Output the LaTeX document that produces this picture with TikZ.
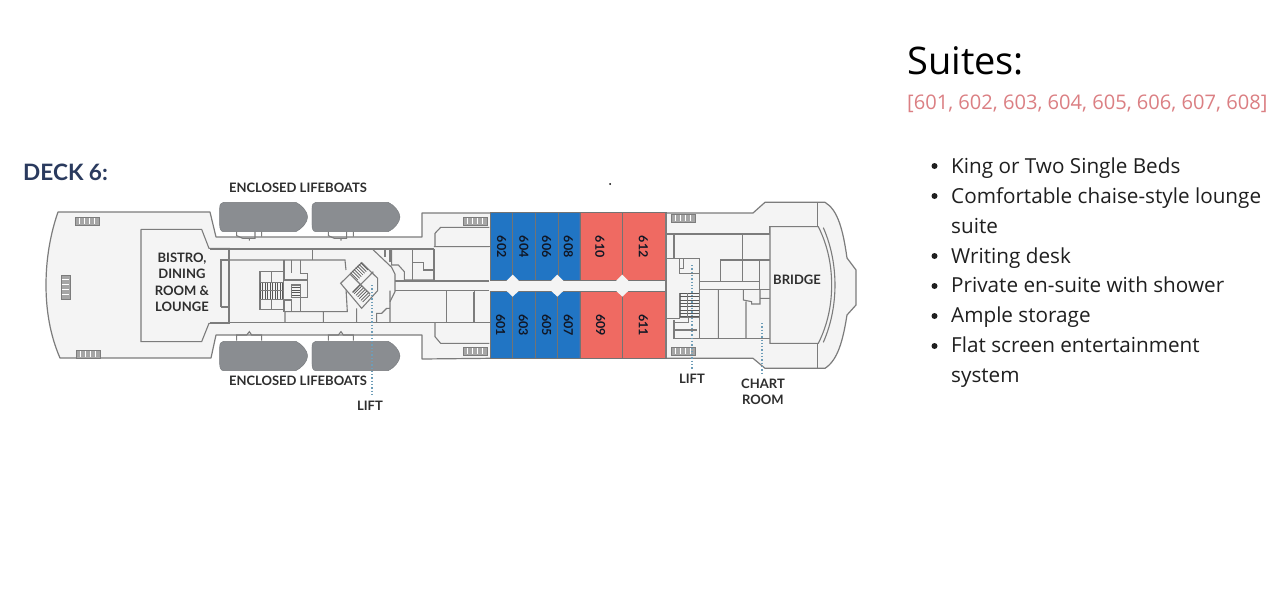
\documentclass[tikz,border=0pt]{standalone}
\usepackage{fontspec}
\setmainfont{Open Sans}
\newfontfamily\lab{Lato}
\definecolor{deck}{HTML}{F4F4F4}
\definecolor{wall}{HTML}{7C7C7C}
\definecolor{boat}{HTML}{8A8D91}
\definecolor{suiteblue}{HTML}{2175C4}
\definecolor{suitered}{HTML}{EF6A62}
\definecolor{navy}{HTML}{2A3A5E}
\definecolor{pinktxt}{HTML}{DB7F83}
\definecolor{leader}{HTML}{6E9DB8}
\tikzset{
 zm/.style={x=0.3333pt,y=-0.3333pt},
 hull/.style={draw=wall,fill=deck,line width=1.2pt,line join=round},
 wl/.style={draw=wall,line width=1.1pt},
 boatshape/.style={fill=boat,draw=boat!85!black,line width=.4pt},
 suitediv/.style={draw=black!55,line width=.9pt},
 room/.style={font=\lab\bfseries\fontsize{13}{16.5}\selectfont,text=black!82,align=center,inner sep=0pt},
 suitenum/.style={font=\lab\bfseries\fontsize{12.5}{14}\selectfont,text=black!60!navy,rotate=-90,inner sep=0pt},
 leadline/.style={draw=leader,line width=1.4pt,dash pattern=on 1.3pt off 2pt},
 item/.style={font=\fontsize{20.7}{30}\selectfont,anchor=base west,inner sep=0pt,text=black!88},
 bul/.style={circle,fill=black!88,inner sep=0pt,minimum size=6pt},
}
\begin{document}
\begin{tikzpicture}[x=1pt,y=-1pt]
\useasboundingbox (0,0) rectangle (1280,597);
\fill[white] (0,0) rectangle (1280,597);
% ----- hull outline
\path[hull] (58,212) -- (210,212) -- (216,237) -- (422,237) -- (422,213) -- (490,213) -- (666,213)
  -- (753,213) -- (765,202.3) -- (825,202.3) .. controls (838,210) and (843,230) .. (847,258)
  -- (856,270) -- (856,305) -- (847,315) .. controls (843,340) and (838,360) .. (825,368.3)
  -- (765,368.3) -- (753,358.3) -- (666,358.3) -- (490,358.3) -- (422,359) -- (422,335) -- (216,335) -- (211,358)
  -- (60,358) .. controls (50,335) and (46,310) .. (46,285) .. controls (46,260) and (50,235) .. (58,212) -- cycle;
% ----- aft section (zoom-1 coords)
\begin{scope}[shift={(10,150)},zm]
 \draw[wl] (393,238) -- (575,238) -- (597,295) -- (660,295);
 \draw[wl] (393,238) -- (393,575) -- (575,575) -- (597,520) -- (660,520);
 \draw[wl] (660,330) -- (635,330) -- (635,472) -- (660,472);
\end{scope}
% ----- mid section (zoom-2 coords)
\begin{scope}[shift={(210,170)},zm]
 \draw[wl] (0,237) -- (672,237) (0,458) -- (838,458);
 \draw[wl] (57,237) -- (57,458) (308,237) -- (308,270);
 \draw[wl] (57,270) -- (405,270) -- (408,300);
 \draw[wl] (33,270) rectangle (57,410);
 \draw[wl] (408,355) -- (412,425) -- (225,425) -- (225,458) (340,425) -- (340,458) (440,415) -- (440,458);
 \draw[wl] (150,305) rectangle (220,418);
 \draw[wl] (150,337) -- (150,388) (185,305) -- (185,337) (185,388) -- (185,418);
 \draw[wl] (222,270) -- (222,330) -- (292,330) (245,270) -- (245,310) (272,270) -- (272,310) -- (292,310) -- (292,382) -- (272,382) -- (272,425);
 \draw[wl] (222,390) -- (222,425) (245,345) rectangle (272,382) (222,390) -- (245,390) -- (245,425);
 \foreach \i in {0,...,9} \draw[draw=wall!70!black,line width=.7pt] ({150+\i*7.5},337) -- ({150+\i*7.5},388);
 \draw[wl] (150,337) -- (218,337) (150,362) -- (218,362) (150,388) -- (218,388);
 \foreach \i in {0,...,3} \draw[draw=wall!70!black,line width=.7pt] (247,{352+\i*8}) -- (270,{352+\i*8});
 % diamond stair
 \draw[wl,fill=deck] (392,340) -- (455,278) -- (503,325) -- (503,362) -- (455,415) -- cycle;
 \draw[wl] (420,312) -- (480,372) (428,368) -- (490,305);
 \foreach \i in {0,...,6} \draw[draw=wall!70!black,line width=.7pt] ({422+\i*5},{308-\i*5}) -- ({444+\i*5},{330-\i*5});
 \foreach \i in {0,...,6} \draw[draw=wall!70!black,line width=.7pt] ({428+\i*5},{366+\i*5}) -- ({450+\i*5},{344+\i*5});
 % forward of stair
 \draw[wl] (487,237) -- (545,292) -- (555,312) -- (555,365) -- (540,395);
 \draw[wl] (525,237) -- (525,260) (540,237) -- (540,275);
 \draw[wl] (545,237) -- (545,285) -- (565,285) -- (583,305) -- (583,330) -- (672,330);
 \draw[wl] (608,237) -- (608,330) (610,277) -- (640,277) -- (640,300) -- (672,300);
 \draw[wl] (672,237) -- (672,330) (555,333) -- (838,333) (555,362) -- (838,362);
 \draw[wl] (540,362) -- (540,458) (500,458) -- (500,430) -- (515,430) -- (530,415) -- (540,415);
 \draw[wl] (710,362) -- (710,458) (793,362) -- (793,458);
 \draw[wl] (672,230) -- (838,230) (675,230) -- (675,190) -- (692,172) -- (838,172);
 \draw[wl] (675,458) -- (675,500) -- (692,520) -- (838,520);
 % davits
 \foreach \b in {80,355} {
  \draw[wl] (\b,185) -- (\b,197) -- ({\b+18},205) -- ({\b+55},205) -- ({\b+55},185)
            ({\b+38},205) -- ({\b+38},212) ({\b+75},185) -- ({\b+75},200);
  \draw[wl] (\b,512) -- (\b,495) -- ({\b+30},495) -- ({\b+38},485) -- ({\b+45},495) -- ({\b+75},495) -- ({\b+75},512);
 }
 % lifeboats
 \foreach \o in {0,277} {
  \path[boatshape,shift={(\o,0)}] (40,97) -- (258,97) .. controls (275,105) and (293,125) .. (293,141)
    .. controls (293,157) and (275,177) .. (258,185) -- (40,185) .. controls (32,185) and (29,175) .. (29,165)
    -- (29,115) .. controls (29,105) and (32,97) .. (40,97) -- cycle;
  \path[boatshape,shift={(\o,0)}] (40,514) -- (258,514) .. controls (275,522) and (293,542) .. (293,558)
    .. controls (293,574) and (275,594) .. (258,602) -- (40,602) .. controls (32,602) and (29,592) .. (29,582)
    -- (29,532) .. controls (29,522) and (32,514) .. (40,514) -- cycle;
 }
\end{scope}
% ----- suites (zoom-3 coords)
\begin{scope}[shift={(460,190)},zm]
 \draw[wl] (0,170) -- (92,170) (42,305) -- (42,397) (0,397) -- (92,397);
 \fill[suiteblue] (92,68) rectangle (360,270) (92,305) rectangle (360,505);
 \fill[suitered] (360,68) rectangle (618,270) (360,305) rectangle (618,505);
 \draw[suitediv] (92,68) rectangle (618,270) (92,305) rectangle (618,505) (360,68) -- (360,270) (360,305) -- (360,505);
 \foreach \x in {158,225,295,487} \draw[suitediv] (\x,68) -- (\x,270);
 \foreach \x in {157,225,292,487} \draw[suitediv] (\x,305) -- (\x,505);
 \fill[deck] (92,272) rectangle (616,303);
 \draw[wl] (618,270) -- (618,305);
 \foreach \x in {158,292,487} \fill[deck] (\x,254) -- ({\x+18},272) -- ({\x+18},303) -- (\x,320) -- ({\x-18},303) -- ({\x-18},272) -- cycle;
 \node[suitenum] (s602) at (125,170) {602};
 \node[suitenum] (s604) at (192,170) {604};
 \node[suitenum] (s606) at (260,170) {606};
 \node[suitenum] (s608) at (325,170) {608};
 \node[suitenum] (s610) at (420,170) {610};
 \node[suitenum] (s612) at (550,170) {612};
 \node[suitenum] (s601) at (122,405) {601};
 \node[suitenum] (s603) at (190,405) {603};
 \node[suitenum] (s605) at (260,405) {605};
 \node[suitenum] (s607) at (325,405) {607};
 \node[suitenum] (s609) at (422,405) {609};
 \node[suitenum] (s611) at (550,405) {611};
\end{scope}
% ----- forward section (zoom-4 coords)
\begin{scope}[shift={(650,190)},zm]
 \draw[wl] (48,132) -- (360,132) (72,132) -- (72,205) (48,205) -- (148,205) -- (148,445);
 \draw[wl] (278,132) -- (278,210) -- (212,210) -- (212,275) (278,210) -- (360,210) (328,210) -- (328,298);
 \draw[wl] (278,210) -- (278,275) (148,275) -- (328,275) (148,298) -- (360,298);
 \draw[wl] (205,298) -- (205,445) (288,335) -- (288,445) (280,298) -- (280,330) -- (305,335) -- (305,342) -- (330,342) -- (330,325) -- (360,325) (330,298) -- (330,325);
 \draw[wl] (72,445) -- (360,445) (48,385) -- (90,385) (72,390) -- (72,445) -- (120,445) (75,420) -- (140,420) (75,398) -- (115,398) -- (115,385);
 \draw[wl] (88,205) -- (88,250) -- (148,250) (100,205) -- (100,235) -- (88,235);
 \draw[wl,fill=deck] (90,310) rectangle (148,382);
 \foreach \i in {0,...,7} \draw[draw=wall!70!black,line width=.7pt] (90,{310+\i*10}) -- (148,{310+\i*10});
 \draw[wl] (112,310) -- (112,382);
 \draw[wl] (360,132) -- (360,110) -- (505,110);
 \draw[wl,fill=deck] (360,110) -- (505,110) .. controls (535,170) and (545,230) .. (545,285)
    .. controls (545,340) and (535,400) .. (505,460) -- (360,460) -- cycle;
 \draw[wl] (520,113) .. controls (545,170) and (555,230) .. (555,285) .. controls (555,340) and (545,400) .. (520,457);
 \draw[wl] (503,37) -- (503,110) (503,460) -- (503,533);
 \draw[wl] (48,68) -- (48,505);
\end{scope}
% ----- vents
\foreach \n/\x/\y/\w/\h in {a/75/217/24/8,b/61/275/9/24,c/76/350/24/8,d/463/217/24/8,e/463/347/24/8,f/671/214/24/8,g/671/347/24/8} {
 \fill[black!35,draw=wall] (\x,\y) rectangle ++(\w,\h);
 \ifdim \w pt>\h pt
  \foreach \k in {1,...,4} \draw[white,line width=.9pt] ({\x+\w*\k/5},{\y+1}) -- ({\x+\w*\k/5},{\y+\h-1});
 \else
  \foreach \k in {1,...,4} \draw[white,line width=.9pt] ({\x+1},{\y+\h*\k/5}) -- ({\x+\w-1},{\y+\h*\k/5});
 \fi
}
% ----- leaders
\coordinate (lift1a) at (372,285); \coordinate (lift1b) at (372,396);
\coordinate (lift2a) at (692,265); \coordinate (lift2b) at (692,370);
\coordinate (charta) at (762,323); \coordinate (chartb) at (762,373);
\draw[leadline] (lift1a) -- (lift1b);
\draw[leadline] (lift2a) -- (lift2b);
\draw[leadline] (charta) -- (chartb);
% ----- labels
\node[font=\lab\bfseries\fontsize{22.6}{24}\selectfont,text=navy,anchor=west,inner sep=0pt] (deck) at (23,172) {DECK 6:};
\node[room] (bistro) at (182,282.5) {BISTRO,\\DINING\\ROOM \&\\LOUNGE};
\node[room] (boatsT) at (298,188) {ENCLOSED LIFEBOATS};
\node[room] (boatsB) at (298,381) {ENCLOSED LIFEBOATS};
\node[room] (liftA) at (370,406) {LIFT};
\node[room] (liftB) at (692,378.5) {LIFT};
\node[room] (chart) at (763,392) {CHART\\ROOM};
\node[room] (bridge) at (797,280) {BRIDGE};
% ----- right column
\node[font=\fontsize{38}{40}\selectfont,anchor=base west,inner sep=0pt] (title) at (907,74) {Suites:};
\node[font=\fontsize{20.1}{24}\selectfont,text=pinktxt,anchor=base west,inner sep=0pt] (ids) at (907,109) {[601, 602, 603, 604, 605, 606, 607, 608]};
\node[item] (i1) at (951,173) {King or Two Single Beds};
\node[item] (i2) at (951,203) {Comfortable chaise-style lounge};
\node[item] (i2b) at (951,233) {suite};
\node[item] (i3) at (951,263) {Writing desk};
\node[item] (i4) at (951,292) {Private en-suite with shower};
\node[item] (i5) at (951,322) {Ample storage};
\node[item] (i6) at (951,352) {Flat screen entertainment};
\node[item] (i6b) at (951,382) {system};
\foreach \n/\y in {a/166,b/196,c/256,d/286,e/316,f/346} \node[bul] (b\n) at (934.5,\y) {};
\fill[black] (610,184) circle (1pt);
\end{tikzpicture}
\end{document}
